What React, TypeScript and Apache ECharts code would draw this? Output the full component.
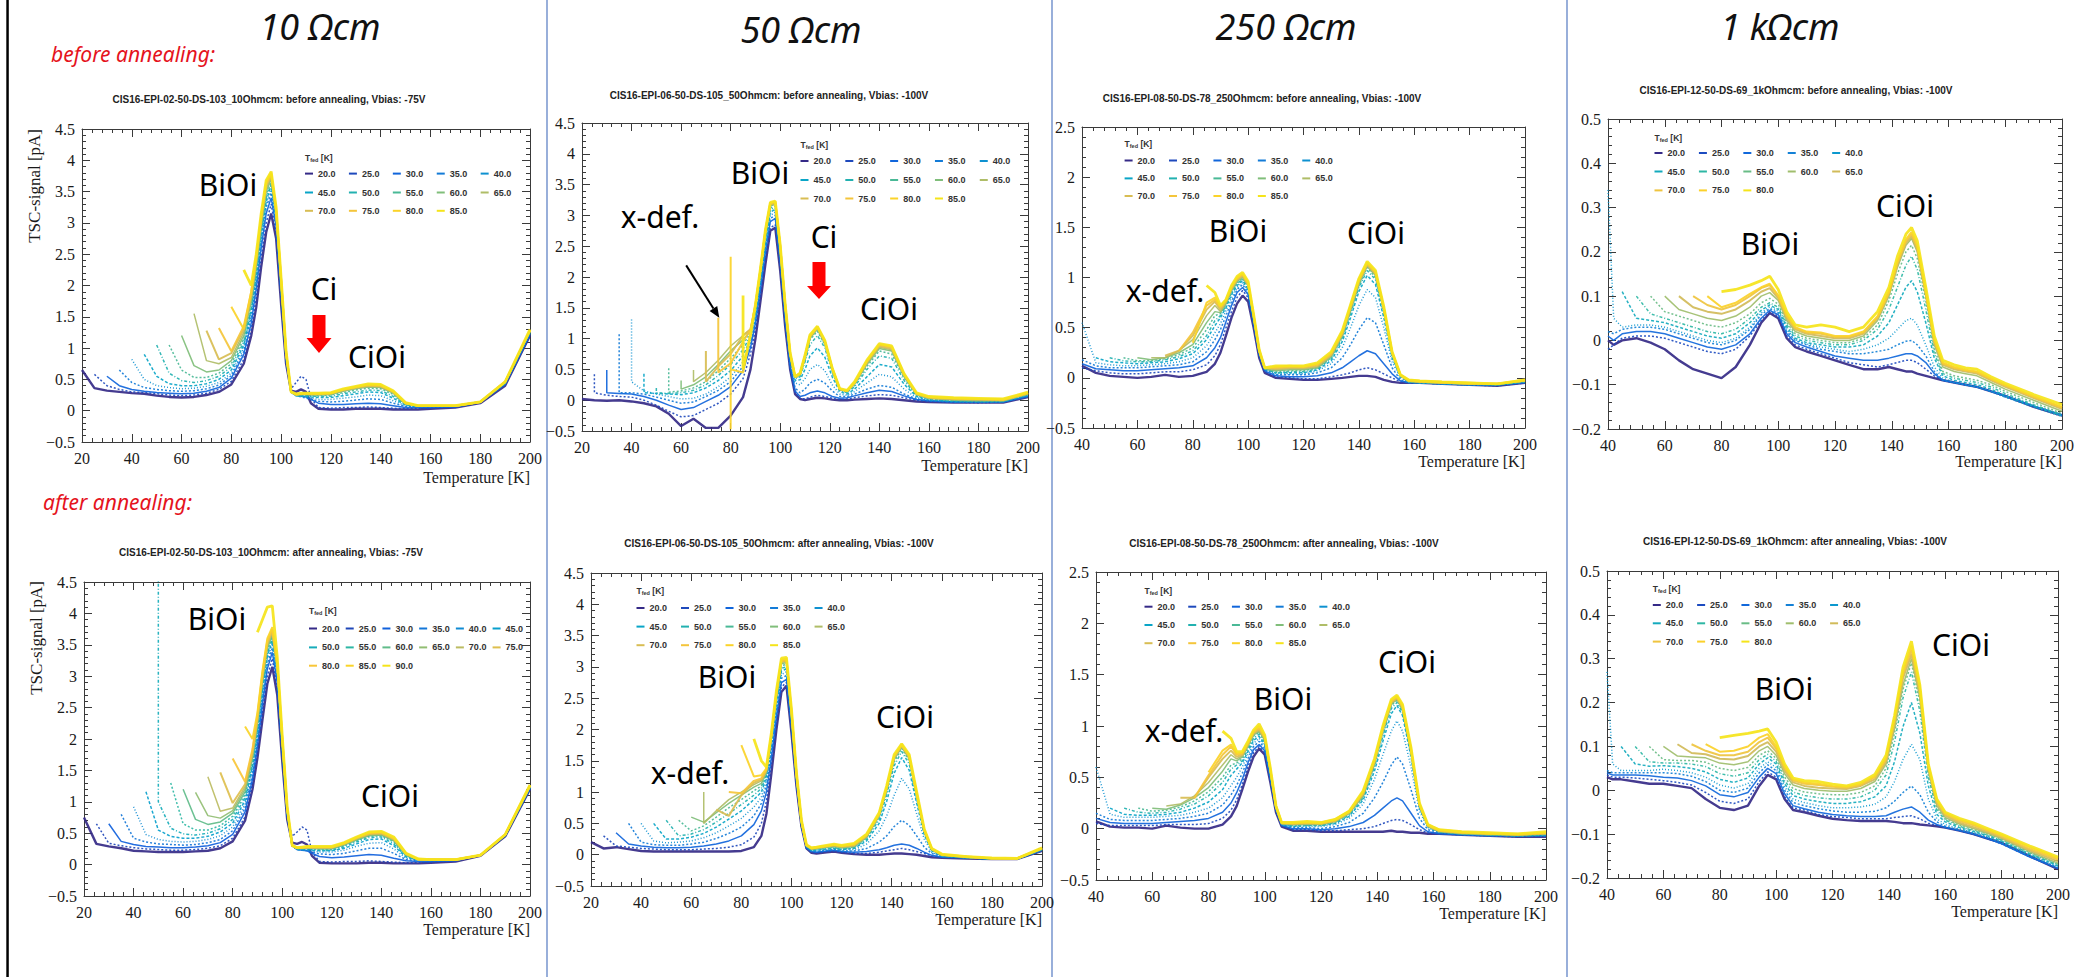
import { useEffect, useRef } from "react";
import * as echarts from "echarts";

const SERIF = "'Liberation Serif', 'DejaVu Serif', serif";
const SANS = "'Liberation Sans', Arial, sans-serif";
const HUMAN = "'Noto Sans', 'Open Sans', sans-serif";

// Fill temperatures T_fed [K] of the individual TSC runs
const tfed13 = [20, 25, 30, 35, 40, 45, 50, 55, 60, 65, 70, 75, 80];
const tfed14 = [20, 25, 30, 35, 40, 45, 50, 55, 60, 65, 70, 75, 80, 85];
const tfed15 = [20, 25, 30, 35, 40, 45, 50, 55, 60, 65, 70, 75, 80, 85, 90];

// Temperature samples [K]; every run begins at its own T_fed (or at the axis start)
const temps10 = [20, 25, 30, 35, 40, 45, 50, 55, 60, 65, 70, 75, 80, 85, 88, 90, 92, 94, 96, 98, 100, 102, 104, 106, 108, 110, 112, 115, 120, 125, 130, 135, 140, 145, 150, 155, 160, 170, 180, 190, 200];
const temps50b = [20, 25, 30, 35, 40, 45, 50, 55, 60, 65, 70, 75, 80, 85, 88, 90, 92, 94, 96, 98, 100, 102, 104, 106, 108, 110, 112, 115, 118, 121, 124, 127, 130, 135, 140, 145, 150, 155, 160, 170, 180, 190, 200];
const temps50a = [20, 25, 30, 35, 40, 45, 50, 55, 60, 65, 70, 75, 80, 85, 88, 90, 92, 94, 96, 98, 100, 102, 104, 106, 108, 110, 114, 117, 120, 125, 130, 135, 138, 141, 144, 147, 150, 153, 156, 160, 170, 180, 190, 200];
const temps250b = [40, 45, 50, 55, 60, 65, 70, 75, 80, 85, 88, 90, 92, 94, 96, 98, 100, 102, 104, 106, 110, 115, 120, 125, 130, 134, 137, 140, 143, 146, 149, 152, 155, 158, 162, 170, 180, 190, 200];
const temps250a = [40, 45, 50, 55, 60, 65, 70, 75, 80, 85, 88, 90, 92, 94, 96, 98, 100, 102, 104, 106, 110, 115, 120, 125, 130, 135, 139, 142, 145, 147, 149, 152, 155, 158, 162, 170, 180, 190, 200];
const temps1kb = [40, 42, 45, 50, 55, 60, 65, 70, 75, 80, 85, 90, 94, 97, 100, 103, 106, 110, 115, 120, 125, 130, 135, 139, 142, 145, 147, 149, 152, 155, 158, 162, 166, 170, 175, 180, 190, 200];
const temps1ka = [40, 42, 45, 50, 55, 60, 65, 70, 75, 80, 85, 90, 94, 97, 100, 103, 106, 110, 115, 120, 125, 130, 135, 139, 142, 145, 148, 151, 154, 157, 160, 165, 170, 175, 180, 190, 200];

// TSC signal [pA], one row per T_fed
const sig10b = [
  [.65, .36, .32, .3, .28, .27, .24, .22, .21, .22, .25, .3, .42, .75, 1.2, 1.65, 2.3, 2.85, 3.15, 2.75, 1.7, .75, .32, .3, .34, .3, .12, .03, .02, .02, .03, .03, .03, .02, .02, .02, .03, .05, .12, .4, 1.2],
  [.58, .4, .34, .3, .29, .27, .25, .24, .25, .28, .34, .47, .82, 1.3, 1.8, 2.45, 3.0, 3.3, 2.85, 1.8, .8, .35, .45, .55, .5, .2, .05, .04, .05, .05, .06, .05, .04, .03, .04, .04, .06, .13, .42, 1.2],
  [.55, .4, .34, .31, .29, .28, .27, .28, .31, .37, .52, .9, 1.4, 1.95, 2.6, 3.15, 3.4, 2.95, 1.85, .8, .3, .25, .24, .22, .18, .12, .1, .1, .11, .12, .11, .08, .05, .05, .05, .06, .13, .42, 1.22],
  [.65, .45, .37, .34, .32, .31, .32, .35, .41, .56, .95, 1.5, 2.05, 2.7, 3.25, 3.48, 3.0, 1.9, .82, .3, .24, .22, .2, .18, .15, .14, .15, .17, .19, .18, .12, .07, .06, .06, .07, .14, .43, 1.23],
  [.82, .5, .4, .37, .35, .36, .39, .45, .6, 1.0, 1.55, 2.1, 2.75, 3.3, 3.55, 3.05, 1.95, .85, .3, .24, .23, .22, .2, .18, .18, .2, .22, .25, .24, .16, .08, .07, .07, .07, .14, .43, 1.24],
  [.9, .55, .43, .4, .4, .43, .5, .65, 1.05, 1.6, 2.15, 2.8, 3.35, 3.6, 3.1, 2.0, .87, .3, .24, .23, .23, .22, .21, .21, .24, .27, .3, .29, .2, .09, .07, .07, .07, .14, .44, 1.25],
  [1.05, .6, .48, .45, .48, .55, .7, 1.1, 1.65, 2.2, 2.85, 3.4, 3.62, 3.1, 2.0, .88, .3, .24, .24, .24, .23, .23, .23, .27, .3, .33, .32, .23, .1, .07, .07, .07, .14, .44, 1.25],
  [1.05, .65, .53, .53, .6, .75, 1.15, 1.7, 2.25, 2.9, 3.45, 3.65, 3.12, 2.02, .9, .3, .25, .25, .25, .24, .24, .25, .29, .33, .36, .35, .26, .1, .07, .07, .07, .14, .45, 1.26],
  [1.2, .72, .62, .65, .8, 1.2, 1.75, 2.3, 2.95, 3.5, 3.7, 3.15, 2.05, .9, .3, .25, .26, .26, .25, .25, .26, .31, .35, .38, .37, .28, .11, .08, .07, .07, .14, .45, 1.27],
  [1.55, .8, .75, .85, 1.25, 1.8, 2.35, 3.0, 3.55, 3.72, 3.15, 2.05, .9, .3, .25, .26, .27, .26, .26, .27, .32, .36, .39, .38, .29, .12, .08, .07, .07, .14, .45, 1.27],
  [1.28, .82, .92, 1.3, 1.85, 2.4, 3.05, 3.6, 3.75, 3.18, 2.08, .92, .3, .26, .27, .27, .27, .27, .28, .33, .37, .4, .39, .3, .12, .08, .08, .08, .14, .46, 1.28],
  [1.32, .95, 1.35, 1.9, 2.45, 3.1, 3.62, 3.78, 3.2, 2.1, .93, .3, .26, .27, .27, .27, .27, .28, .34, .38, .41, .4, .31, .12, .08, .08, .08, .14, .46, 1.28],
  [1.66, 1.3, 1.9, 2.45, 3.1, 3.65, 3.8, 3.22, 2.1, .93, .3, .26, .27, .27, .27, .27, .28, .34, .38, .42, .41, .31, .12, .08, .08, .08, .14, .46, 1.28],
  [2.25, 2.0, 2.5, 3.15, 3.68, 3.82, 3.25, 2.12, .95, .3, .27, .28, .28, .28, .28, .29, .35, .39, .43, .42, .32, .13, .08, .08, .08, .14, .46, 1.3],
];

const sig50b = [
  [.02, 0, -.01, 0, -.02, -.05, -.1, -.22, -.42, -.3, -.45, -.45, -.25, .05, .5, 1.0, 1.6, 2.2, 2.75, 2.8, 2.1, 1.2, .5, .1, .02, 0, .02, .04, .03, .01, 0, 0, .01, .02, .03, .02, 0, -.02, -.03, -.04, -.04, -.04, .05],
  [.12, .08, .06, .05, 0, -.08, -.18, -.27, -.25, -.15, -.05, .1, .35, .75, 1.15, 1.7, 2.3, 2.8, 2.85, 2.15, 1.25, .5, .12, .03, .02, .05, .08, .06, .03, .01, .02, .04, .07, .09, .08, .04, 0, -.02, -.03, -.04, -.03, .06],
  [.12, .11, .1, .06, 0, -.08, -.15, -.12, -.02, .08, .22, .48, .85, 1.25, 1.8, 2.4, 2.9, 2.95, 2.25, 1.3, .55, .15, .06, .08, .12, .15, .12, .06, .03, .04, .07, .12, .16, .14, .07, .01, -.01, -.03, -.03, -.03, .06],
  [.12, .12, .1, .05, 0, -.05, -.03, .06, .16, .3, .55, .9, 1.3, 1.85, 2.45, 2.95, 3.0, 2.3, 1.35, .6, .2, .12, .18, .28, .34, .28, .15, .06, .06, .1, .18, .24, .21, .1, .02, -.01, -.03, -.03, -.03, .07],
  [.3, .15, .1, .06, .02, .03, .1, .22, .38, .62, .95, 1.35, 1.9, 2.5, 3.0, 3.05, 2.35, 1.4, .65, .28, .25, .35, .5, .58, .48, .25, .1, .08, .14, .28, .42, .38, .18, .04, 0, -.02, -.03, -.02, .08],
  [.12, .11, .1, .09, .12, .2, .32, .48, .72, 1.0, 1.4, 1.95, 2.55, 3.05, 3.1, 2.4, 1.45, .7, .32, .33, .5, .72, .85, .7, .38, .14, .1, .18, .38, .58, .54, .26, .06, .01, -.02, -.02, -.02, .08],
  [.12, .11, .12, .16, .25, .4, .58, .82, 1.05, 1.45, 2.0, 2.6, 3.1, 3.12, 2.42, 1.48, .72, .35, .38, .62, .9, 1.05, .85, .45, .16, .12, .22, .5, .72, .68, .32, .07, .02, -.01, -.02, -.02, .09],
  [.13, .15, .2, .3, .48, .68, .9, 1.1, 1.48, 2.05, 2.65, 3.12, 3.15, 2.45, 1.5, .73, .36, .4, .66, .98, 1.12, .9, .48, .17, .13, .24, .55, .8, .75, .36, .08, .02, 0, -.01, -.01, .1],
  [.18, .25, .38, .58, .8, .98, 1.12, 1.5, 2.08, 2.68, 3.15, 3.18, 2.47, 1.52, .74, .37, .41, .68, 1.0, 1.15, .92, .5, .17, .14, .26, .58, .84, .8, .38, .09, .03, 0, -.01, -.01, .1],
  [.3, .45, .65, .88, 1.05, 1.15, 1.52, 2.1, 2.7, 3.17, 3.2, 2.48, 1.53, .75, .38, .42, .7, 1.02, 1.17, .94, .5, .18, .14, .27, .6, .86, .82, .4, .1, .03, .01, 0, 0, .1],
  [.3, .55, .75, 1.05, 1.15, 1.53, 2.1, 2.72, 3.18, 3.2, 2.5, 1.54, .75, .38, .43, .71, 1.03, 1.18, .95, .51, .18, .15, .28, .62, .88, .84, .41, .1, .04, .02, .01, 0, .11],
  [.45, .6, .95, 1.15, 1.55, 2.12, 2.75, 3.2, 3.22, 2.5, 1.55, .76, .38, .43, .72, 1.04, 1.19, .96, .52, .18, .15, .28, .63, .9, .86, .42, .11, .05, .03, .02, .01, .12],
  [.5, .45, 1.1, 1.55, 2.12, 2.75, 3.2, 3.22, 2.5, 1.55, .76, .38, .44, .72, 1.05, 1.19, .96, .52, .19, .15, .29, .64, .91, .87, .42, .11, .05, .03, .02, .01, .12],
  [.5, 1.05, 1.55, 2.13, 2.76, 3.21, 3.23, 2.52, 1.56, .77, .38, .44, .73, 1.06, 1.2, .97, .52, .19, .16, .3, .65, .92, .88, .43, .12, .06, .04, .03, .02, .13],
];

const sig250b = [
  [.12, .05, .02, .01, 0, .01, .03, .01, .02, .06, .14, .25, .42, .6, .74, .82, .76, .5, .2, .05, 0, -.01, -.02, -.02, -.01, 0, .01, .02, .02, .01, -.02, -.04, -.05, -.05, -.05, -.06, -.07, -.08, -.05],
  [.1, .07, .05, .04, .04, .05, .06, .06, .08, .13, .22, .33, .5, .66, .8, .87, .8, .52, .22, .06, .01, 0, -.01, -.01, .01, .03, .05, .08, .1, .08, .04, 0, -.04, -.05, -.05, -.06, -.07, -.08, -.05],
  [.14, .09, .08, .07, .07, .08, .09, .1, .12, .2, .3, .4, .56, .72, .85, .9, .83, .54, .23, .07, .02, .01, .01, .02, .05, .1, .16, .22, .27, .24, .14, .04, -.03, -.05, -.05, -.06, -.07, -.07, -.05],
  [.18, .12, .1, .1, .1, .11, .12, .13, .16, .26, .38, .48, .62, .76, .88, .93, .85, .56, .24, .08, .03, .03, .03, .05, .1, .2, .33, .48, .6, .55, .33, .1, -.02, -.05, -.05, -.06, -.07, -.07, -.04],
  [.55, .15, .13, .12, .12, .13, .14, .16, .2, .32, .45, .54, .67, .8, .9, .95, .87, .57, .25, .09, .04, .04, .04, .07, .14, .3, .5, .72, .88, .8, .5, .16, 0, -.04, -.05, -.06, -.07, -.07, -.04],
  [.2, .16, .15, .14, .15, .16, .19, .24, .38, .52, .6, .7, .83, .92, .97, .88, .58, .25, .09, .05, .05, .05, .08, .17, .36, .6, .86, 1.02, .93, .6, .2, .01, -.04, -.05, -.06, -.07, -.07, -.04],
  [.2, .17, .16, .16, .18, .21, .27, .42, .57, .62, .72, .85, .94, .98, .9, .59, .26, .09, .05, .06, .06, .09, .19, .39, .64, .9, 1.07, .98, .64, .22, .02, -.04, -.05, -.05, -.06, -.07, -.04],
  [.2, .17, .17, .19, .23, .3, .48, .62, .64, .73, .86, .95, .99, .91, .6, .26, .09, .06, .07, .07, .1, .2, .41, .66, .92, 1.1, 1.0, .66, .23, .02, -.04, -.05, -.05, -.06, -.07, -.04],
  [.2, .18, .2, .25, .33, .55, .66, .65, .74, .87, .96, 1.0, .92, .6, .26, .09, .07, .08, .08, .1, .21, .42, .67, .93, 1.11, 1.02, .67, .24, .02, -.04, -.04, -.05, -.06, -.06, -.03],
  [.2, .2, .27, .38, .62, .72, .66, .75, .88, .97, 1.01, .92, .61, .27, .1, .08, .09, .09, .11, .22, .43, .68, .95, 1.12, 1.03, .68, .24, .02, -.03, -.04, -.05, -.06, -.06, -.03],
  [.22, .27, .42, .68, .76, .68, .76, .89, .98, 1.02, .93, .61, .27, .1, .09, .1, .1, .12, .23, .44, .7, .96, 1.13, 1.04, .69, .25, .03, -.03, -.04, -.05, -.06, -.06, -.03],
  [.27, .45, .72, .78, .7, .77, .9, .99, 1.03, .94, .62, .27, .1, .1, .11, .11, .13, .24, .45, .71, .97, 1.14, 1.05, .7, .25, .03, -.03, -.04, -.05, -.06, -.06, -.03],
  [.35, .75, .8, .71, .78, .91, 1.0, 1.04, .95, .62, .28, .1, .11, .12, .11, .14, .25, .46, .72, .98, 1.15, 1.06, .7, .26, .03, -.02, -.03, -.04, -.05, -.06, -.02],
  [.92, .85, .72, .78, .92, 1.01, 1.05, .96, .63, .28, .1, .12, .12, .12, .15, .26, .47, .73, .99, 1.16, 1.07, .71, .26, .03, -.02, -.03, -.04, -.05, -.06, -.02],
];

const sig1kb = [
  [0, -.01, 0, .005, -.005, -.02, -.045, -.065, -.075, -.085, -.06, -.01, .04, .062, .05, .005, -.015, -.025, -.035, -.045, -.055, -.065, -.065, -.06, -.065, -.07, -.07, -.075, -.08, -.085, -.09, -.095, -.1, -.105, -.115, -.125, -.15, -.17],
  [-.02, -.01, .005, .01, .01, .005, -.005, -.015, -.025, -.03, -.02, .01, .045, .065, .055, .01, -.01, -.02, -.03, -.04, -.05, -.055, -.06, -.055, -.05, -.045, -.045, -.05, -.065, -.08, -.09, -.095, -.1, -.105, -.115, -.125, -.148, -.168],
  [.01, 0, .015, .02, .02, .015, .005, -.005, -.015, -.02, -.01, .015, .05, .068, .058, .015, -.005, -.015, -.025, -.035, -.04, -.045, -.045, -.04, -.035, -.03, -.03, -.035, -.05, -.075, -.09, -.095, -.1, -.105, -.115, -.125, -.148, -.168],
  [.02, .015, .025, .03, .03, .025, .015, .005, -.005, -.01, 0, .025, .058, .072, .062, .02, 0, -.01, -.02, -.025, -.03, -.03, -.025, -.02, -.01, -.002, 0, -.01, -.035, -.07, -.09, -.095, -.1, -.105, -.115, -.128, -.15, -.17],
  [.34, .05, .03, .035, .035, .03, .02, .01, 0, -.005, .005, .03, .062, .076, .066, .025, .002, -.008, -.015, -.02, -.025, -.02, -.01, .005, .025, .045, .05, .035, -.01, -.06, -.085, -.095, -.1, -.105, -.115, -.128, -.15, -.172],
  [.11, .05, .045, .04, .03, .02, .01, .005, .015, .04, .068, .08, .07, .03, .005, -.005, -.01, -.015, -.015, -.01, .01, .04, .08, .12, .135, .11, .04, -.04, -.08, -.09, -.095, -.1, -.11, -.125, -.148, -.17],
  [.1, .06, .05, .04, .03, .02, .015, .025, .05, .075, .085, .075, .035, .01, 0, -.005, -.01, -.01, 0, .025, .07, .12, .17, .19, .16, .07, -.03, -.075, -.085, -.09, -.095, -.105, -.12, -.145, -.168],
  [.1, .065, .055, .045, .035, .03, .04, .06, .085, .095, .082, .04, .015, .005, 0, -.005, -.005, .005, .035, .09, .15, .2, .215, .185, .09, -.02, -.07, -.08, -.085, -.09, -.1, -.115, -.14, -.165],
  [.1, .07, .06, .05, .045, .055, .075, .1, .108, .09, .045, .02, .01, .005, 0, 0, .01, .045, .1, .165, .215, .23, .2, .1, -.01, -.06, -.07, -.075, -.08, -.095, -.11, -.135, -.16],
  [.1, .075, .065, .06, .07, .09, .11, .118, .095, .05, .025, .015, .01, .005, .005, .015, .05, .105, .17, .22, .235, .205, .105, -.005, -.055, -.065, -.07, -.075, -.09, -.105, -.13, -.155],
  [.1, .08, .07, .08, .1, .118, .125, .1, .055, .028, .018, .015, .008, .008, .018, .052, .108, .175, .225, .24, .21, .108, 0, -.052, -.062, -.068, -.072, -.088, -.102, -.128, -.152],
  [.1, .075, .085, .105, .12, .128, .102, .057, .03, .02, .018, .01, .01, .02, .055, .11, .178, .228, .245, .215, .11, .002, -.05, -.06, -.066, -.07, -.086, -.1, -.126, -.15],
  [.11, .115, .125, .135, .145, .115, .065, .035, .03, .035, .03, .02, .03, .065, .12, .19, .24, .255, .225, .12, .01, -.045, -.055, -.062, -.065, -.082, -.097, -.122, -.145],
];

const sig10a = [
  [.75, .33, .29, .26, .22, .21, .2, .2, .2, .21, .22, .26, .37, .7, 1.2, 1.7, 2.3, 2.88, 3.15, 2.7, 1.65, .72, .35, .33, .36, .32, .14, .03, .02, .02, .02, .03, .03, .02, .02, .02, .03, .05, .14, .45, 1.2],
  [.65, .34, .3, .27, .25, .24, .23, .23, .24, .26, .3, .42, .76, 1.28, 1.8, 2.42, 3.0, 3.28, 2.8, 1.72, .75, .45, .52, .6, .55, .2, .05, .04, .05, .05, .06, .05, .04, .03, .03, .04, .06, .15, .46, 1.2],
  [.65, .37, .32, .29, .28, .27, .27, .28, .3, .35, .48, .84, 1.36, 1.9, 2.55, 3.12, 3.38, 2.9, 1.78, .78, .3, .24, .23, .22, .18, .13, .11, .12, .14, .16, .15, .1, .06, .05, .05, .06, .15, .46, 1.21],
  [.8, .42, .36, .33, .32, .31, .32, .35, .4, .54, .9, 1.44, 1.98, 2.63, 3.2, 3.45, 2.95, 1.82, .8, .3, .24, .23, .22, .2, .17, .16, .18, .22, .26, .26, .18, .08, .06, .06, .07, .15, .46, 1.22],
  [.92, .48, .4, .37, .36, .37, .4, .46, .6, .96, 1.5, 2.05, 2.7, 3.27, 3.52, 3.0, 1.86, .82, .3, .24, .23, .23, .22, .2, .2, .23, .29, .34, .35, .25, .1, .07, .07, .07, .15, .46, 1.22],
  [1.16, .55, .45, .42, .42, .45, .52, .66, 1.02, 1.56, 2.1, 2.76, 3.32, 3.56, 3.04, 1.9, .84, .3, .24, .24, .24, .23, .22, .22, .26, .33, .4, .41, .3, .12, .07, .07, .07, .15, .47, 1.23],
  [1.0, .58, .49, .47, .5, .57, .72, 1.07, 1.6, 2.15, 2.8, 3.36, 3.6, 3.07, 1.92, .85, .3, .25, .25, .25, .24, .23, .23, .28, .36, .43, .44, .33, .13, .07, .07, .07, .15, .47, 1.23],
  [1.3, .65, .55, .55, .62, .77, 1.12, 1.64, 2.2, 2.85, 3.4, 3.63, 3.1, 1.94, .86, .3, .25, .25, .26, .25, .24, .24, .3, .38, .45, .46, .36, .14, .07, .07, .07, .15, .47, 1.24],
  [1.2, .72, .64, .68, .82, 1.16, 1.68, 2.24, 2.9, 3.44, 3.66, 3.12, 1.96, .87, .3, .26, .26, .27, .26, .25, .25, .31, .39, .46, .47, .38, .15, .08, .07, .07, .15, .47, 1.24],
  [1.15, .78, .74, .86, 1.2, 1.72, 2.27, 2.93, 3.47, 3.68, 3.14, 1.97, .88, .3, .26, .26, .27, .27, .26, .26, .32, .4, .47, .48, .39, .16, .08, .07, .07, .15, .47, 1.24],
  [1.4, .85, .9, 1.24, 1.76, 2.3, 2.96, 3.5, 3.7, 3.16, 1.98, .88, .3, .26, .27, .27, .27, .27, .27, .33, .41, .48, .49, .4, .16, .08, .08, .07, .15, .48, 1.25],
  [1.47, .98, 1.28, 1.8, 2.34, 3.0, 3.53, 3.72, 3.18, 2.0, .89, .3, .26, .27, .27, .27, .27, .27, .33, .42, .49, .5, .41, .17, .08, .08, .08, .15, .48, 1.25],
  [1.69, 1.32, 1.84, 2.38, 3.04, 3.57, 3.75, 3.2, 2.02, .9, .3, .27, .27, .28, .28, .28, .28, .34, .43, .5, .51, .42, .17, .08, .08, .08, .15, .48, 1.26],
  [2.2, 2.0, 2.42, 3.08, 3.6, 3.78, 3.22, 2.03, .9, .31, .27, .28, .28, .28, .28, .28, .34, .43, .51, .52, .43, .18, .08, .08, .08, .15, .48, 1.26],
  [3.7, 3.9, 4.1, 4.12, 3.3, 2.05, .92, .31, .27, .28, .29, .29, .29, .29, .35, .44, .52, .53, .44, .18, .09, .08, .08, .15, .48, 1.27],
];

const sig50a = [
  [.2, .1, .12, .09, .06, .05, .05, .05, .05, .05, .05, .05, .06, .12, .3, .65, 1.3, 2.0, 2.6, 2.7, 1.95, 1.1, .45, .1, .03, .02, .04, .05, .03, .01, 0, 0, .01, .02, .02, .01, 0, -.02, -.04, -.05, -.06, -.07, -.07, .06],
  [.3, .14, .12, .1, .09, .08, .08, .08, .09, .1, .12, .16, .28, .5, .85, 1.45, 2.1, 2.68, 2.75, 2.0, 1.12, .45, .1, .04, .03, .05, .06, .04, .02, .02, .04, .06, .08, .1, .08, .05, .02, -.02, -.04, -.05, -.07, -.07, .06],
  [.35, .17, .14, .12, .11, .11, .12, .14, .17, .22, .3, .48, .7, 1.0, 1.55, 2.2, 2.75, 2.8, 2.05, 1.15, .47, .11, .05, .04, .06, .07, .05, .04, .05, .08, .11, .15, .17, .15, .1, .04, -.01, -.04, -.05, -.07, -.07, .07],
  [.5, .2, .16, .15, .15, .17, .2, .26, .34, .44, .62, .82, 1.1, 1.65, 2.3, 2.82, 2.86, 2.1, 1.18, .48, .12, .06, .05, .07, .08, .06, .06, .1, .2, .3, .45, .55, .47, .3, .12, .02, -.03, -.05, -.07, -.07, .07],
  [.5, .22, .19, .2, .22, .27, .35, .46, .58, .76, .92, 1.18, 1.72, 2.37, 2.88, 2.92, 2.14, 1.2, .49, .12, .06, .06, .08, .09, .07, .08, .17, .38, .62, .95, 1.22, 1.05, .65, .25, .04, -.03, -.05, -.07, -.07, .08],
  [.5, .25, .25, .28, .34, .44, .57, .7, .88, 1.0, 1.24, 1.78, 2.42, 2.93, 2.97, 2.18, 1.22, .5, .13, .07, .07, .09, .1, .08, .1, .22, .5, .85, 1.3, 1.55, 1.35, .82, .32, .06, -.02, -.05, -.07, -.07, .08],
  [.55, .3, .33, .4, .52, .66, .8, .95, 1.06, 1.28, 1.82, 2.47, 2.98, 3.0, 2.2, 1.24, .51, .13, .08, .08, .1, .11, .09, .11, .25, .56, .95, 1.42, 1.65, 1.45, .88, .35, .07, -.02, -.05, -.07, -.07, .08],
  [.55, .38, .46, .6, .75, .88, 1.02, 1.1, 1.3, 1.85, 2.5, 3.02, 3.04, 2.23, 1.25, .52, .14, .08, .09, .11, .12, .1, .12, .27, .6, 1.0, 1.48, 1.7, 1.5, .92, .37, .08, -.01, -.04, -.06, -.07, .09],
  [.6, .52, .67, .82, .95, 1.08, 1.14, 1.32, 1.87, 2.52, 3.05, 3.07, 2.25, 1.26, .52, .14, .09, .1, .12, .13, .11, .13, .28, .62, 1.03, 1.52, 1.72, 1.53, .94, .38, .08, -.01, -.04, -.06, -.07, .09],
  [.5, .7, .88, 1.0, 1.12, 1.18, 1.34, 1.88, 2.54, 3.07, 3.09, 2.27, 1.27, .53, .14, .09, .1, .13, .14, .12, .14, .29, .63, 1.05, 1.54, 1.73, 1.55, .95, .38, .08, -.01, -.04, -.06, -.07, .09],
  [.72, .62, .95, 1.15, 1.2, 1.35, 1.9, 2.56, 3.09, 3.1, 2.28, 1.28, .53, .15, .1, .11, .13, .15, .13, .15, .3, .64, 1.06, 1.56, 1.74, 1.56, .96, .39, .09, 0, -.04, -.06, -.06, .1],
  [1.0, .98, 1.18, 1.22, 1.36, 1.91, 2.57, 3.1, 3.11, 2.29, 1.29, .54, .15, .1, .12, .14, .16, .14, .16, .31, .65, 1.07, 1.57, 1.75, 1.57, .97, .39, .09, 0, -.03, -.06, -.06, .1],
  [1.75, 1.25, 1.27, 1.38, 1.93, 2.6, 3.12, 3.13, 2.31, 1.3, .54, .15, .11, .12, .14, .16, .14, .17, .32, .66, 1.08, 1.58, 1.76, 1.58, .98, .4, .1, 0, -.03, -.06, -.06, .1],
  [1.85, 1.5, 1.4, 1.95, 2.62, 3.14, 3.15, 2.33, 1.31, .55, .16, .11, .12, .15, .17, .15, .18, .33, .67, 1.1, 1.6, 1.77, 1.6, 1.0, .41, .1, .01, -.03, -.05, -.06, .11],
];

const sig250a = [
  [.07, .02, .01, .01, 0, .03, .01, 0, 0, .04, .12, .22, .38, .55, .7, .78, .72, .45, .16, .02, -.02, -.02, -.03, -.03, -.03, -.03, -.03, -.03, -.02, -.03, -.03, -.04, -.04, -.05, -.05, -.06, -.07, -.08, -.08],
  [.05, .03, .03, .03, .03, .04, .04, .04, .05, .1, .18, .28, .43, .6, .74, .8, .74, .47, .17, .03, -.01, -.01, -.02, -.02, -.01, 0, .02, .05, .08, .09, .08, .04, -.01, -.04, -.05, -.06, -.07, -.08, -.07],
  [.1, .06, .05, .05, .05, .06, .07, .08, .1, .16, .25, .35, .48, .64, .77, .82, .76, .48, .18, .03, 0, 0, -.01, 0, .02, .06, .13, .2, .27, .3, .27, .15, .03, -.03, -.05, -.06, -.07, -.07, -.07],
  [.15, .09, .08, .08, .08, .09, .1, .12, .15, .23, .33, .42, .54, .68, .8, .85, .78, .5, .19, .04, .01, .01, 0, .02, .06, .15, .3, .45, .62, .7, .63, .38, .1, -.01, -.04, -.06, -.07, -.07, -.07],
  [.6, .14, .11, .11, .11, .12, .13, .16, .2, .3, .42, .5, .6, .72, .83, .88, .8, .52, .19, .04, .02, .02, .02, .04, .1, .24, .48, .72, .95, 1.05, .95, .6, .17, .01, -.04, -.05, -.06, -.07, -.07],
  [.2, .14, .13, .13, .14, .16, .2, .26, .38, .52, .58, .64, .75, .86, .9, .82, .53, .2, .04, .02, .03, .03, .05, .12, .28, .56, .85, 1.12, 1.2, 1.1, .7, .2, .02, -.03, -.05, -.06, -.07, -.06],
  [.2, .16, .15, .16, .19, .24, .32, .45, .58, .62, .66, .77, .88, .92, .84, .54, .2, .04, .03, .03, .03, .06, .13, .3, .6, .9, 1.17, 1.23, 1.13, .72, .21, .02, -.03, -.05, -.06, -.07, -.06],
  [.2, .17, .18, .21, .27, .36, .5, .62, .64, .68, .79, .9, .94, .85, .55, .2, .05, .03, .04, .04, .06, .14, .31, .62, .93, 1.2, 1.25, 1.15, .74, .22, .02, -.03, -.05, -.06, -.07, -.06],
  [.2, .19, .23, .3, .4, .56, .68, .66, .7, .8, .91, .95, .86, .56, .21, .05, .04, .04, .04, .07, .15, .32, .63, .95, 1.21, 1.26, 1.16, .75, .22, .02, -.03, -.05, -.06, -.06, -.05],
  [.22, .24, .32, .45, .62, .72, .68, .71, .81, .92, .96, .87, .56, .21, .05, .04, .05, .05, .07, .15, .33, .64, .96, 1.22, 1.27, 1.17, .76, .23, .03, -.02, -.04, -.05, -.06, -.05],
  [.3, .3, .5, .68, .76, .7, .72, .82, .93, .97, .88, .57, .21, .05, .05, .05, .05, .08, .16, .34, .65, .97, 1.23, 1.27, 1.18, .76, .23, .03, -.02, -.04, -.05, -.06, -.05],
  [.3, .52, .72, .8, .72, .73, .83, .94, .98, .89, .57, .22, .06, .05, .06, .05, .08, .16, .35, .66, .98, 1.24, 1.28, 1.19, .77, .24, .03, -.02, -.04, -.05, -.06, -.04],
  [.55, .76, .82, .73, .74, .84, .95, 1.0, .9, .58, .22, .06, .06, .06, .06, .09, .17, .36, .67, .99, 1.25, 1.29, 1.2, .78, .24, .04, -.01, -.03, -.05, -.05, -.04],
  [.95, .88, .75, .75, .85, .96, 1.02, .91, .59, .22, .06, .06, .07, .06, .09, .17, .37, .68, 1.0, 1.26, 1.3, 1.21, .79, .25, .04, -.01, -.03, -.04, -.05, -.03],
];

const sig1ka = [
  [.03, .025, .025, .02, .015, .015, .01, .005, -.02, -.04, -.045, -.035, .01, .035, .025, -.02, -.045, -.05, -.058, -.065, -.068, -.07, -.07, -.07, -.072, -.075, -.075, -.078, -.08, -.082, -.085, -.092, -.1, -.11, -.12, -.15, -.18],
  [.035, .03, .03, .028, .025, .022, .018, .012, -.005, -.025, -.03, -.02, .02, .042, .03, -.015, -.04, -.045, -.055, -.06, -.062, -.065, -.065, -.065, -.062, -.06, -.058, -.065, -.075, -.08, -.085, -.092, -.1, -.11, -.122, -.152, -.178],
  [.04, .035, .035, .035, .033, .03, .028, .022, .01, -.01, -.015, -.005, .03, .05, .038, -.008, -.035, -.042, -.05, -.055, -.058, -.06, -.06, -.058, -.05, -.043, -.038, -.05, -.068, -.078, -.085, -.092, -.1, -.11, -.122, -.152, -.178],
  [.045, .04, .04, .04, .04, .04, .038, .032, .02, 0, -.005, .005, .04, .058, .045, 0, -.028, -.035, -.042, -.047, -.05, -.05, -.048, -.04, -.025, -.005, .01, -.01, -.05, -.072, -.082, -.09, -.098, -.108, -.12, -.15, -.176],
  [.27, .06, .045, .045, .045, .048, .045, .04, .03, .012, .005, .015, .05, .065, .052, .008, -.02, -.028, -.035, -.04, -.04, -.038, -.032, -.015, .02, .07, .105, .07, -.02, -.065, -.078, -.088, -.096, -.106, -.118, -.148, -.174],
  [.1, .06, .055, .056, .054, .05, .042, .025, .018, .028, .06, .074, .06, .015, -.012, -.02, -.026, -.03, -.03, -.026, -.015, .01, .065, .145, .2, .13, .01, -.055, -.072, -.085, -.094, -.104, -.116, -.146, -.172],
  [.1, .065, .062, .062, .06, .054, .038, .032, .04, .07, .082, .066, .022, -.004, -.012, -.017, -.02, -.02, -.015, 0, .035, .11, .21, .27, .18, .03, -.045, -.068, -.082, -.092, -.102, -.114, -.144, -.17],
  [.1, .07, .068, .068, .064, .05, .045, .052, .08, .09, .073, .03, .004, -.004, -.008, -.01, -.01, -.005, .01, .05, .13, .23, .29, .2, .04, -.04, -.065, -.08, -.09, -.1, -.112, -.142, -.168],
  [.1, .078, .076, .074, .062, .058, .065, .09, .1, .08, .038, .012, .004, 0, -.002, -.002, .004, .02, .06, .14, .24, .3, .21, .045, -.035, -.062, -.077, -.087, -.098, -.11, -.14, -.166],
  [.105, .085, .082, .072, .07, .078, .1, .11, .088, .045, .018, .01, .006, .004, .003, .01, .025, .065, .15, .255, .31, .22, .05, -.03, -.058, -.074, -.084, -.095, -.108, -.137, -.162],
  [.105, .09, .08, .08, .088, .11, .12, .095, .05, .022, .015, .012, .008, .006, .012, .03, .07, .16, .265, .32, .23, .055, -.025, -.055, -.07, -.08, -.092, -.105, -.134, -.158],
  [.105, .088, .09, .1, .12, .128, .1, .055, .025, .018, .015, .01, .008, .015, .032, .075, .165, .27, .33, .235, .058, -.022, -.052, -.067, -.077, -.09, -.102, -.13, -.155],
  [.12, .125, .13, .135, .14, .11, .06, .028, .022, .02, .014, .01, .018, .036, .08, .17, .28, .34, .24, .06, -.02, -.05, -.064, -.074, -.087, -.1, -.127, -.152],
];

// Start-of-run transients (vertical glitches at T_fed), per run
const spikes50b = [null, .42, .49, 1.07, 1.31, .43, .2, .52, .32, .49, .8, 1.34, [2.33, -.47], 1.7];
const spikes10a = [null, null, null, null, null, null, 4.6, null, null, null, null, null, null, null, null];
const spikes50a = [null, null, null, null, null, null, null, null, null, 1.0, null, null, null, null];

const PANELS = [
  { key: "s10b", title: "CIS16-EPI-02-50-DS-103_10Ohmcm: before annealing, Vbias: -75V", temps: temps10, tfed: tfed14, rows: sig10b, spikes: null, xMin: 20, yMin: -0.5, yMax: 4.5, yStep: 0.5 },
  { key: "s50b", title: "CIS16-EPI-06-50-DS-105_50Ohmcm: before annealing, Vbias: -100V", temps: temps50b, tfed: tfed14, rows: sig50b, spikes: spikes50b, xMin: 20, yMin: -0.5, yMax: 4.5, yStep: 0.5 },
  { key: "s250b", title: "CIS16-EPI-08-50-DS-78_250Ohmcm: before annealing, Vbias: -100V", temps: temps250b, tfed: tfed14, rows: sig250b, spikes: null, xMin: 40, yMin: -0.5, yMax: 2.5, yStep: 0.5 },
  { key: "s1kb", title: "CIS16-EPI-12-50-DS-69_1kOhmcm: before annealing, Vbias: -100V", temps: temps1kb, tfed: tfed13, rows: sig1kb, spikes: null, xMin: 40, yMin: -0.2, yMax: 0.5, yStep: 0.1 },
  { key: "s10a", title: "CIS16-EPI-02-50-DS-103_10Ohmcm: after annealing, Vbias: -75V", temps: temps10, tfed: tfed15, rows: sig10a, spikes: spikes10a, xMin: 20, yMin: -0.5, yMax: 4.5, yStep: 0.5 },
  { key: "s50a", title: "CIS16-EPI-06-50-DS-105_50Ohmcm: after annealing, Vbias: -100V", temps: temps50a, tfed: tfed14, rows: sig50a, spikes: spikes50a, xMin: 20, yMin: -0.5, yMax: 4.5, yStep: 0.5 },
  { key: "s250a", title: "CIS16-EPI-08-50-DS-78_250Ohmcm: after annealing, Vbias: -100V", temps: temps250a, tfed: tfed14, rows: sig250a, spikes: null, xMin: 40, yMin: -0.5, yMax: 2.5, yStep: 0.5 },
  { key: "s1ka", title: "CIS16-EPI-12-50-DS-69_1kOhmcm: after annealing, Vbias: -100V", temps: temps1ka, tfed: tfed13, rows: sig1ka, spikes: null, xMin: 40, yMin: -0.2, yMax: 0.5, yStep: 0.1 },
];

// Peak labels drawn on each panel
const PEAK_NOTES = [
  [["BiOi", 228, 184], ["Ci", 324, 288], ["CiOi", 377, 356]],
  [["x-def.", 660, 216], ["BiOi", 760, 172], ["Ci", 824, 236], ["CiOi", 889, 308]],
  [["BiOi", 1238, 230], ["CiOi", 1376, 232], ["x-def.", 1165, 290]],
  [["CiOi", 1905, 205], ["BiOi", 1770, 243]],
  [["BiOi", 217, 618], ["CiOi", 390, 795]],
  [["BiOi", 727, 676], ["CiOi", 905, 716], ["x-def.", 690, 772]],
  [["CiOi", 1407, 661], ["BiOi", 1283, 698], ["x-def.", 1184, 730]],
  [["CiOi", 1961, 644], ["BiOi", 1784, 688]],
];

const HEADINGS = [["10 Ωcm", 320, 26], ["50 Ωcm", 801, 29], ["250 Ωcm", 1286, 26], ["1 kΩcm", 1780, 26]];

// Page layout (pixels)
const LAYOUT = [
  { box: [82, 129, 448, 313], title: [269, 99], xname: [530, 477], yname: [34, 129], leg: { x: 305, head: 157.5, rows: [174.6, 193.5, 211.8], step: 43.9, per: 5 } },
  { box: [582, 123, 446, 308], title: [769, 95], xname: [1028, 465], yname: null, leg: { x: 800.5, head: 145, rows: [162, 181, 199.5], step: 44.8, per: 5 } },
  { box: [1082, 127, 443, 301], title: [1262, 98], xname: [1525, 461], yname: null, leg: { x: 1124.6, head: 144, rows: [161.5, 179.4, 197], step: 44.4, per: 5 } },
  { box: [1608, 119, 454, 310], title: [1796, 90], xname: [2062, 461], yname: null, leg: { x: 1654.5, head: 137.6, rows: [154, 172.5, 191.4], step: 44.4, per: 5 } },
  { box: [84, 582, 446, 314], title: [271, 552], xname: [530, 929], yname: [36, 581], leg: { x: 309, head: 611, rows: [629.5, 648.4, 666.7], step: 36.7, per: 6 } },
  { box: [591, 573, 451, 313], title: [779, 543], xname: [1042, 919], yname: null, leg: { x: 636.5, head: 591.4, rows: [609, 627.6, 646.2], step: 44.5, per: 5 } },
  { box: [1096, 572, 450, 308], title: [1284, 543], xname: [1546, 913], yname: null, leg: { x: 1144.5, head: 591, rows: [607.7, 626, 644.2], step: 43.7, per: 5 } },
  { box: [1607, 571, 451, 307], title: [1795, 541], xname: [2058, 911], yname: null, leg: { x: 1652.8, head: 588.8, rows: [606, 624.3, 642.6], step: 44.3, per: 5 } },
];

// ROOT "bird" palette stops
const BIRD = [[53, 42, 135], [15, 92, 221], [20, 129, 214], [6, 164, 202], [46, 183, 164], [135, 191, 119], [209, 187, 89], [254, 200, 50], [245, 228, 26]];
function birdColor(f: number) {
  const x = f * (BIRD.length - 1);
  const i = Math.min(Math.floor(x), BIRD.length - 2);
  const t = x - i;
  const c = BIRD[i].map((v, k) => Math.round(v + (BIRD[i + 1][k] - v) * t));
  return `rgb(${c[0]},${c[1]},${c[2]})`;
}

const DASH: Record<number, number[]> = { 25: [2, 2], 35: [2, 2], 40: [1, 2], 45: [3, 2], 50: [3, 2, 1, 2], 55: [2, 2] };

const fmtTick = (v: number) => {
  const r = Math.round(v * 100) / 100;
  if (r === 0) return "0";
  return r < 0 ? "\u2212" + String(-r) : String(r);
};

function redArrow(cx: number, top: number, neck: number, tip: number, sh: number, hh: number) {
  return {
    type: "polygon",
    silent: true,
    shape: { points: [[cx - sh, top], [cx + sh, top], [cx + sh, neck], [cx + hh, neck], [cx, tip], [cx - hh, neck], [cx - sh, neck]] },
    style: { fill: "#ff0000" },
  };
}

function pointer(x1: number, y1: number, x2: number, y2: number) {
  const len = Math.hypot(x2 - x1, y2 - y1);
  const dx = (x2 - x1) / len, dy = (y2 - y1) / len;
  const hl = 11, hw = 4.5;
  const bx = x2 - dx * hl, by = y2 - dy * hl;
  return [
    { type: "line", silent: true, shape: { x1, y1, x2: bx, y2: by }, style: { stroke: "#000", lineWidth: 2 } },
    { type: "polygon", silent: true, shape: { points: [[x2, y2], [bx - dy * hw, by + dx * hw], [bx + dy * hw, by - dx * hw]] }, style: { fill: "#000" } },
  ];
}

function buildOption() {
  const grid: any[] = [], xAxis: any[] = [], yAxis: any[] = [], series: any[] = [], legend: any[] = [];
  const g: any[] = [];

  const frame = { show: true, onZero: false, lineStyle: { color: "#3a3a3a", width: 1 } };
  const tick = { show: true, inside: true, length: 8, lineStyle: { color: "#3a3a3a", width: 1 } };
  const minor = { show: true, splitNumber: 5, length: 4, lineStyle: { color: "#3a3a3a", width: 1 } };
  const lbl = { fontFamily: SERIF, fontSize: 16, color: "#1a1a1a", formatter: fmtTick };

  PANELS.forEach((p, pi) => {
    const L = LAYOUT[pi];
    grid.push({ left: L.box[0], top: L.box[1], width: L.box[2], height: L.box[3], containLabel: false, outerBoundsMode: "none", show: false });
    const xBase = { type: "value", gridIndex: pi, min: p.xMin, max: 200, interval: 20, axisLine: frame, axisTick: tick, minorTick: minor, splitLine: { show: false }, minorSplitLine: { show: false } };
    xAxis.push({ ...xBase, position: "bottom", axisLabel: { ...lbl, margin: 8, showMinLabel: true, showMaxLabel: true } });
    xAxis.push({ ...xBase, position: "top", axisLabel: { show: false } });
    const yBase = { type: "value", gridIndex: pi, min: p.yMin, max: p.yMax, interval: p.yStep, axisLine: frame, axisTick: tick, minorTick: minor, splitLine: { show: false }, minorSplitLine: { show: false } };
    yAxis.push({ ...yBase, position: "left", axisLabel: { ...lbl, margin: 7, showMinLabel: true, showMaxLabel: true } });
    yAxis.push({ ...yBase, position: "right", axisLabel: { show: false } });

    const n = p.tfed.length;
    const names: string[] = [];
    p.tfed.forEach((t, i) => {
      const name = `${p.key}:${t.toFixed(1)}`;
      names.push(name);
      const start = p.temps.findIndex((x) => x >= t);
      const row = p.rows[i];
      const data: number[][] = [];
      row.forEach((v, k) => {
        const x = p.temps[start + k];
        if (x !== undefined) data.push([x, v]);
      });
      const sp: any = p.spikes ? p.spikes[i] : null;
      if (sp !== null && sp !== undefined) {
        const xs = p.temps[start];
        const arr = Array.isArray(sp) ? sp : [sp];
        data.unshift(...arr.map((v: number) => [xs, v]));
      }
      const color = birdColor(i / (n - 1));
      const width = i === 0 ? 2.4 : i === n - 1 ? 2.8 : i >= n - 4 ? 2 : 1.5;
      series.push({
        type: "line",
        name,
        xAxisIndex: 2 * pi,
        yAxisIndex: 2 * pi,
        data,
        symbol: "none",
        showSymbol: false,
        clip: true,
        silent: true,
        animation: false,
        z: 2 + i / 100,
        color,
        itemStyle: { color },
        lineStyle: { color, width, type: DASH[t] || "solid", opacity: 0.92 },
        emphasis: { disabled: true },
      });
    });

    // legend: one component per row
    const lg = L.leg;
    for (let r = 0; r < 3; r++) {
      const chunk = names.slice(r * lg.per, (r + 1) * lg.per);
      if (!chunk.length) continue;
      legend.push({
        show: true,
        left: lg.x,
        top: lg.rows[r] - 5.5,
        orient: "horizontal",
        padding: 0,
        itemGap: lg.step - 30.5,
        itemWidth: 8,
        itemHeight: 2,
        icon: "rect",
        selectedMode: false,
        data: chunk,
        formatter: (nm: string) => nm.split(":")[1],
        textStyle: { fontFamily: SANS, fontWeight: "bold", fontSize: 9, color: "#333" },
        itemStyle: { borderWidth: 0 },
      });
    }
    g.push({
      type: "text", silent: true, x: lg.x, y: lg.head,
      style: {
        text: "{a|T}{b|fed}{a| [K]}",
        rich: { a: { fontFamily: SANS, fontWeight: "bold", fontSize: 8.5, fill: "#333" }, b: { fontFamily: SANS, fontWeight: "bold", fontSize: 5.5, fill: "#333", padding: [4, 0, 0, 0] } },
        align: "left", verticalAlign: "middle",
      },
    });

    // panel title
    g.push({ type: "text", silent: true, x: L.title[0], y: L.title[1], style: { text: p.title, fontFamily: SANS, fontWeight: "bold", fontSize: 10, fill: "#222", align: "center", verticalAlign: "middle" } });
    // x axis title
    g.push({ type: "text", silent: true, x: L.xname[0], y: L.xname[1], style: { text: "Temperature [K]", fontFamily: SERIF, fontSize: 16, fill: "#1a1a1a", align: "right", verticalAlign: "middle" } });
    if (L.yname) {
      g.push({ type: "text", silent: true, x: L.yname[0], y: L.yname[1], rotation: Math.PI / 2, style: { text: "TSC-signal [pA]", fontFamily: SERIF, fontSize: 17, fill: "#1a1a1a", align: "right", verticalAlign: "middle" } });
    }
    PEAK_NOTES[pi].forEach(([txt, x, y]: any) => {
      g.push({ type: "text", silent: true, z: 50, x, y, style: { text: txt, fontFamily: HUMAN, fontSize: 30, fill: "#000", align: "center", verticalAlign: "middle" } });
    });
  });

  // page decorations
  g.push({ type: "rect", silent: true, shape: { x: 6.3, y: 0, width: 2.5, height: 977 }, style: { fill: "#000" } });
  [547, 1052, 1567].forEach((x) => g.push({ type: "line", silent: true, shape: { x1: x, y1: 0, x2: x, y2: 977 }, style: { stroke: "#7f9bd1", lineWidth: 1.6 } }));
  HEADINGS.forEach(([t, x, y]: any) => g.push({ type: "text", silent: true, x, y, style: { text: t, fontFamily: HUMAN, fontStyle: "italic", fontSize: 36, lineHeight: 38, fill: "#111", align: "center", verticalAlign: "middle" } }));
  g.push({ type: "text", silent: true, x: 51, y: 54, style: { text: "before annealing:", fontFamily: HUMAN, fontStyle: "italic", fontSize: 21, fill: "#e5131d", align: "left", verticalAlign: "middle" } });
  g.push({ type: "text", silent: true, x: 43, y: 502, style: { text: "after annealing:", fontFamily: HUMAN, fontStyle: "italic", fontSize: 21, fill: "#e5131d", align: "left", verticalAlign: "middle" } });
  g.push(redArrow(319, 315, 338, 353, 6.5, 12.5));
  g.push(redArrow(819, 262, 286, 299, 6.5, 12));
  g.push(...pointer(686.2, 265.4, 719.3, 317.8));

  return {
    animation: false,
    backgroundColor: "#ffffff",
    grid,
    xAxis,
    yAxis,
    legend,
    series,
    graphic: { elements: g },
  };
}

export default function App() {
  const ref = useRef<HTMLDivElement>(null);
  useEffect(() => {
    if (!ref.current) return;
    const chart = echarts.init(ref.current, null, { renderer: "svg" });
    chart.setOption(buildOption() as any);
    return () => chart.dispose();
  }, []);
  return <div ref={ref} style={{ position: "fixed", left: 0, top: 0, width: 2075, height: 977, background: "#fff" }} />;
}
